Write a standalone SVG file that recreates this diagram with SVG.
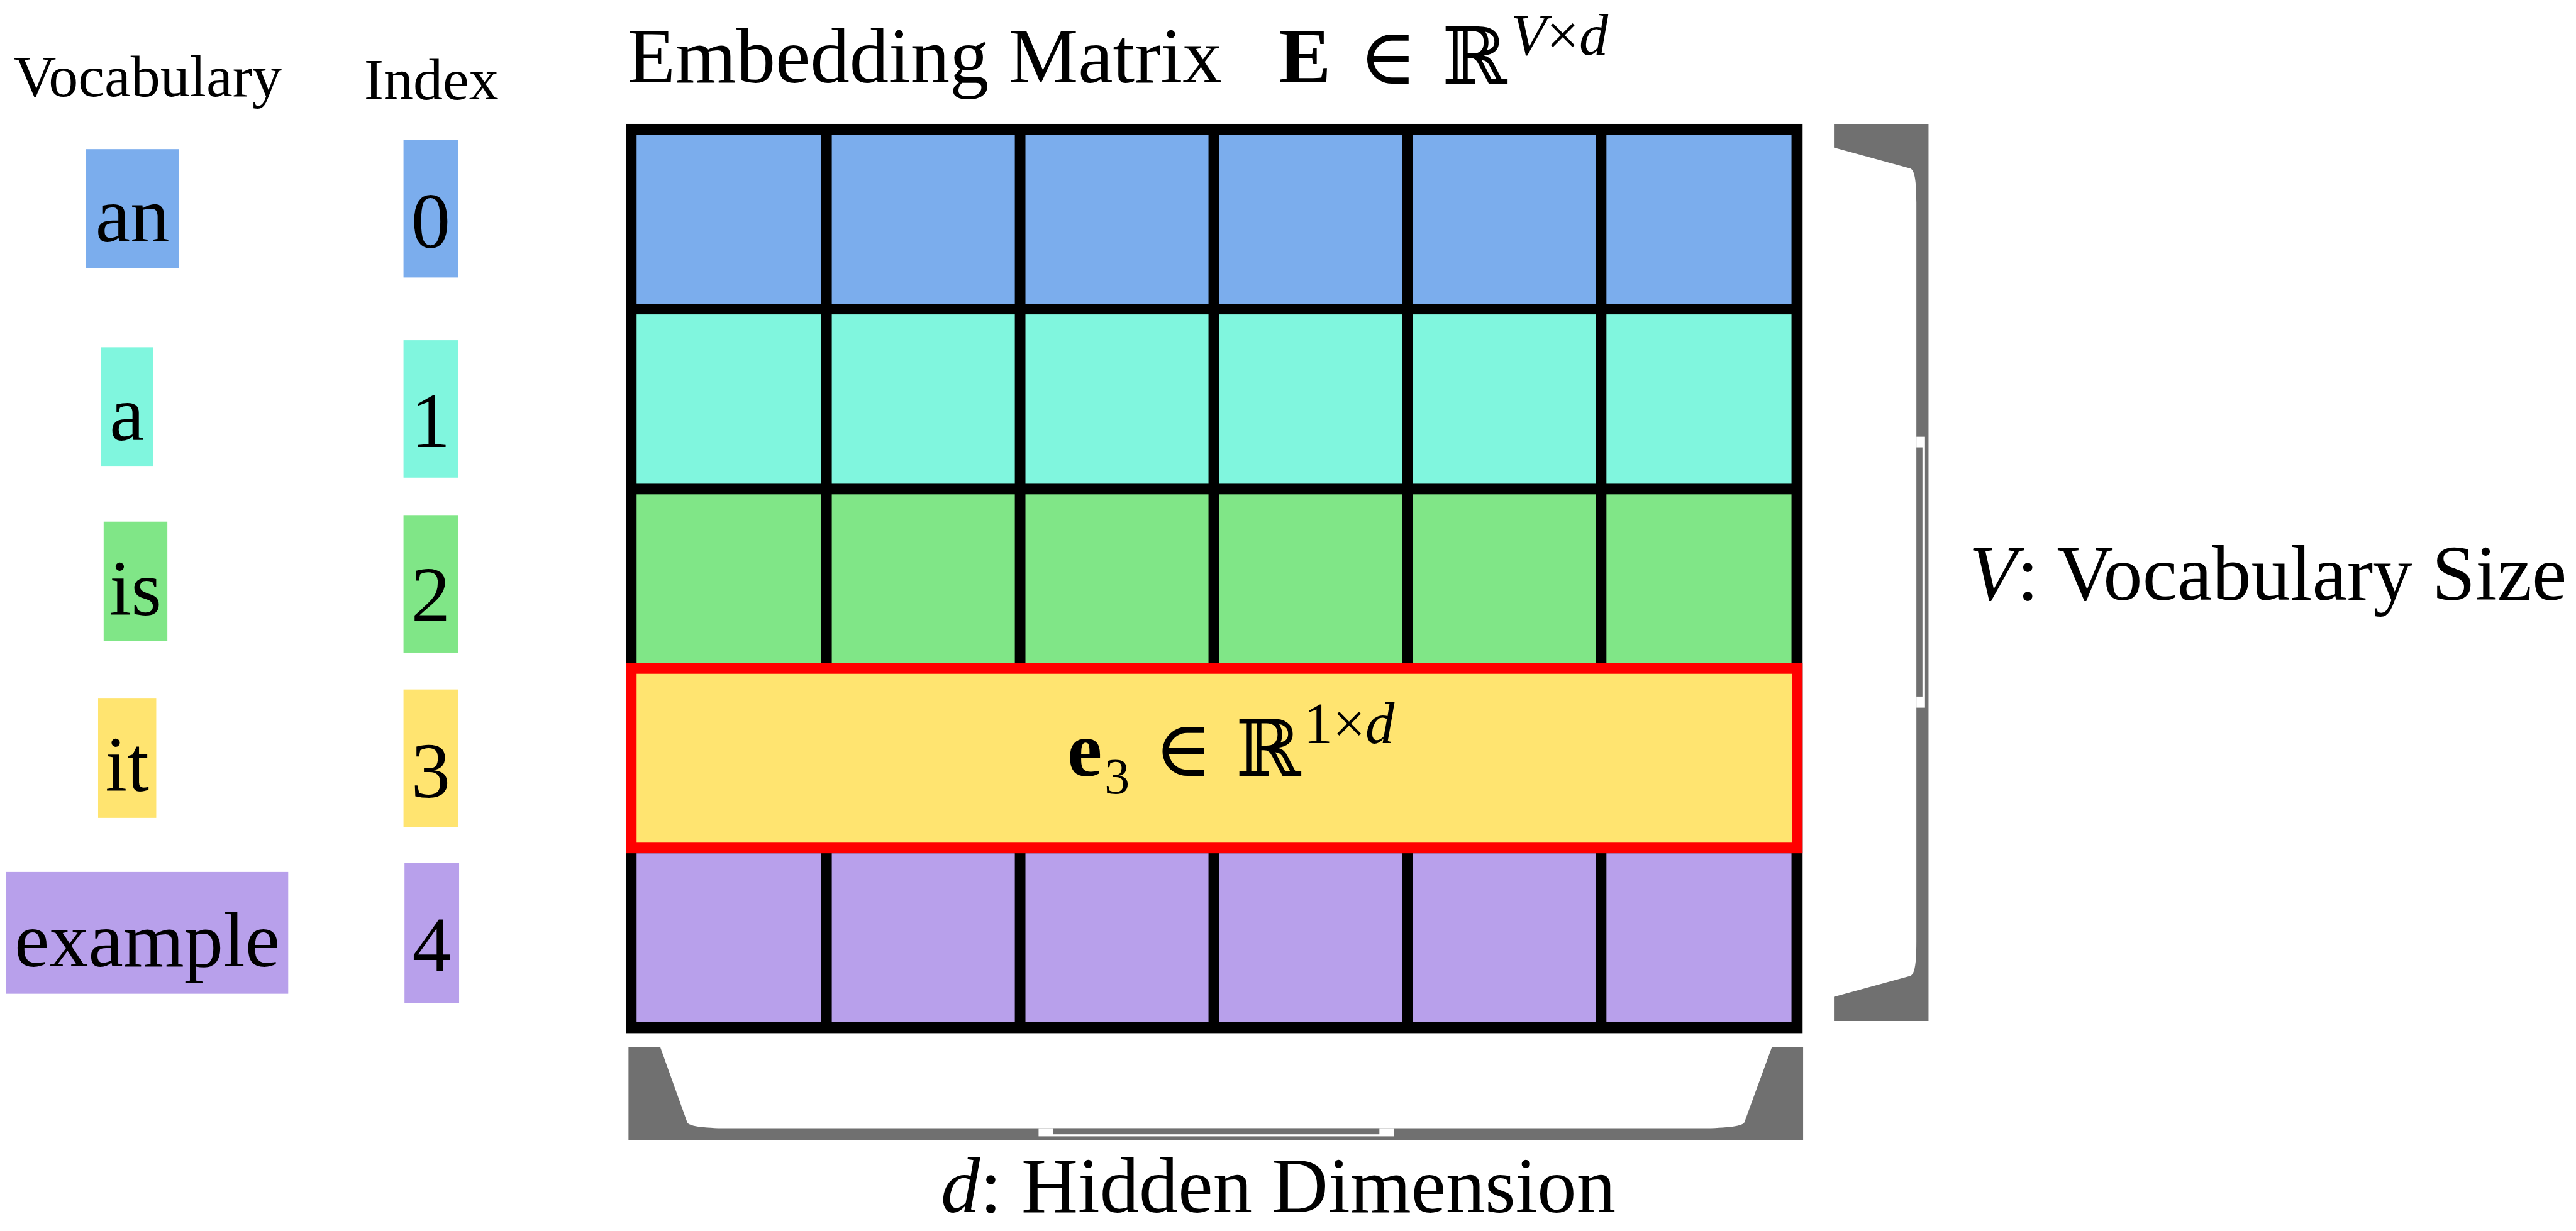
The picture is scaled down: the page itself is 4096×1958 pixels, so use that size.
<svg xmlns="http://www.w3.org/2000/svg" width="4096" height="1958" viewBox="0 0 4096 1958">
<style>
text{font-family:"Liberation Serif","Times New Roman","DejaVu Serif",serif;fill:#000}
.hd{font-size:117px;text-anchor:middle}
.it{font-size:155px;text-anchor:middle}
.lb{font-size:155px}
.bf{font-weight:bold}
.em{font-style:italic}
.sup{font-size:115px}
.blue{fill:#7BADED}.teal{fill:#80F6DE}.green{fill:#80E687}.yellow{fill:#FFE470}.purple{fill:#B8A0EB}
.brace{fill:#707070}
</style>
<rect width="4096" height="1958" fill="#fff"/>
<g transform="scale(0.804)">
<g id="headers">
<text class="hd" x="292" y="190">Vocabulary</text>
<text class="hd" x="853" y="196">Index</text>
</g>
<g id="vocab-an"><rect class="blue" x="170" y="295" width="184" height="235"/><text class="it" x="262" y="478">an</text></g>
<g id="vocab-a"><rect class="teal" x="199" y="687" width="104" height="236"/><text class="it" x="251" y="871">a</text></g>
<g id="vocab-is"><rect class="green" x="205" y="1032" width="126" height="236"/><text class="it" x="268" y="1216">is</text></g>
<g id="vocab-it"><rect class="yellow" x="194" y="1382" width="115" height="236"/><text class="it" x="251.5" y="1565">it</text></g>
<g id="vocab-example"><rect class="purple" x="12" y="1725" width="558" height="241"/><text class="it" x="291" y="1912">example</text></g>
<g id="index-0"><rect class="blue" x="798" y="277" width="108" height="272"/><text class="it" x="852" y="490">0</text></g>
<g id="index-1"><rect class="teal" x="798" y="673" width="108" height="272"/><text class="it" x="852" y="884">1</text></g>
<g id="index-2"><rect class="green" x="798" y="1019" width="108" height="272"/><text class="it" x="852" y="1229">2</text></g>
<g id="index-3"><rect class="yellow" x="798" y="1364" width="108" height="272"/><text class="it" x="852" y="1577">3</text></g>
<g id="index-4"><rect class="purple" x="800" y="1707" width="108" height="277"/><text class="it" x="854" y="1922">4</text></g>
<g id="title">
<text class="lb" x="1241" y="163">Embedding Matrix</text>
<text class="lb bf" x="2529" y="163">E</text>
<text class="lb" x="2745" y="165" text-anchor="middle">∈</text>
<text class="lb" x="2916" y="165" text-anchor="middle">ℝ</text>
<text class="sup" x="2988" y="108"><tspan class="em">V</tspan>×<tspan class="em">d</tspan></text>
</g>
<g id="matrix">
<rect x="1238" y="245" width="2327" height="1799" fill="#000"/>
<g id="row-0" class="blue">
<rect x="1259" y="267" width="365" height="334"/><rect x="1645" y="267" width="362" height="334"/><rect x="2028" y="267" width="362" height="334"/><rect x="2411" y="267" width="362" height="334"/><rect x="2794" y="267" width="362" height="334"/><rect x="3177" y="267" width="366" height="334"/>
</g>
<g id="row-1" class="teal">
<rect x="1259" y="622" width="365" height="335"/><rect x="1645" y="622" width="362" height="335"/><rect x="2028" y="622" width="362" height="335"/><rect x="2411" y="622" width="362" height="335"/><rect x="2794" y="622" width="362" height="335"/><rect x="3177" y="622" width="366" height="335"/>
</g>
<g id="row-2" class="green">
<rect x="1259" y="978" width="365" height="334"/><rect x="1645" y="978" width="362" height="334"/><rect x="2028" y="978" width="362" height="334"/><rect x="2411" y="978" width="362" height="334"/><rect x="2794" y="978" width="362" height="334"/><rect x="3177" y="978" width="366" height="334"/>
</g>
<g id="row-4" class="purple">
<rect x="1259" y="1688" width="365" height="334"/><rect x="1645" y="1688" width="362" height="334"/><rect x="2028" y="1688" width="362" height="334"/><rect x="2411" y="1688" width="362" height="334"/><rect x="2794" y="1688" width="362" height="334"/><rect x="3177" y="1688" width="366" height="334"/>
</g>
<g id="row-3">
<rect x="1248.5" y="1322.5" width="2306" height="355" fill="#FFE470" stroke="#FF0000" stroke-width="21"/>
<text class="lb bf" x="2145" y="1535" text-anchor="middle">e</text>
<text x="2184" y="1570" font-size="100">3</text>
<text class="lb" x="2340" y="1535" text-anchor="middle">∈</text>
<text class="lb" x="2508" y="1535" text-anchor="middle">ℝ</text>
<text class="sup" x="2578" y="1470">1×<tspan class="em">d</tspan></text>
</g>
</g>
<g id="brace-right">
<path class="brace" d="M3627,245 L3814,245 L3814,2020 L3627,2020 L3627,1972 L3777,1931 C3787,1929 3790,1905 3790,1863 L3790,401 C3790,360 3787,335 3777,333 L3627,292 Z"/>
<rect x="3790" y="864" width="17" height="536" fill="#fff"/>
<rect class="brace" x="3790" y="885" width="12" height="493"/>
<text class="lb" x="3894" y="1186" font-size="150"><tspan class="em">V</tspan>: Vocabulary Size</text>
</g>
<g id="brace-bottom">
<path class="brace" d="M1243,2072 L1306,2072 L1359,2220 C1362,2229 1400,2232 1445,2232 L3358,2232 C3405,2232 3447,2229 3450,2220 L3504,2072 L3566,2072 L3566,2255 L1243,2255 Z"/>
<rect x="2054" y="2232" width="703" height="16" fill="#fff"/>
<rect class="brace" x="2083" y="2232" width="645" height="12"/>
<text class="lb" x="2528" y="2398" font-size="150" text-anchor="middle"><tspan class="em">d</tspan>: Hidden Dimension</text>
</g>
</g>
</svg>
